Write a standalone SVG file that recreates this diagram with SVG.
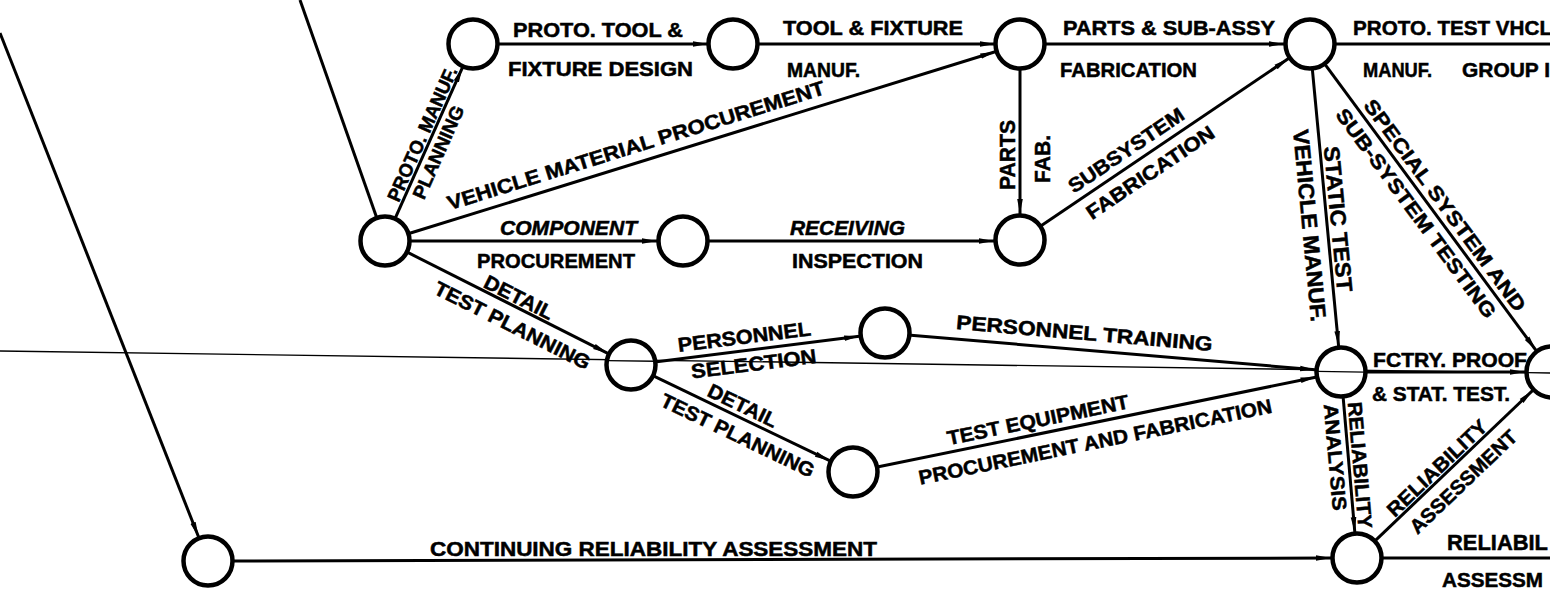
<svg xmlns="http://www.w3.org/2000/svg" width="1564" height="589" viewBox="0 0 1564 589">
<style>
.c{fill:#fff;stroke:#000;stroke-width:4.5}
.e{fill:none;stroke:#000;stroke-width:3}
.a{marker-end:url(#arr)}
.thin{fill:none;stroke:#000;stroke-width:1.4}
.t{font-family:"Liberation Sans",Arial,sans-serif;font-weight:bold;font-size:20px;fill:#000;stroke:#000;stroke-width:0.5}
.i{font-style:italic}
.m{text-anchor:middle}
</style>
<defs>
<marker id="arr" markerUnits="userSpaceOnUse" markerWidth="16" markerHeight="8" refX="15" refY="4" orient="auto">
<path d="M0,1.2 L15,4 L0,6.8 Z" fill="#000"/>
</marker>
<clipPath id="clip"><rect x="0" y="0" width="1550" height="589"/></clipPath>
</defs>
<rect width="1564" height="589" fill="#fff"/>
<g clip-path="url(#clip)">
<g id="connectors">
<line class="thin" x1="0" y1="351" x2="1552" y2="373"/>
<line class="e a" x1="0" y1="33" x2="198.5" y2="536.8"/>
<line class="e" x1="300" y1="0" x2="376.3" y2="216.5"/>
<line class="e a" x1="395.6" y1="217.3" x2="462.4" y2="67.7"/>
<line class="e a" x1="498" y1="44" x2="708" y2="44"/>
<line class="e a" x1="758" y1="44" x2="995" y2="44"/>
<line class="e a" x1="409.8" y1="233.3" x2="995.2" y2="51.7"/>
<line class="e a" x1="411" y1="241" x2="657" y2="241"/>
<line class="e a" x1="709" y1="241" x2="994" y2="241"/>
<line class="e a" x1="1020" y1="70" x2="1020" y2="214"/>
<line class="e a" x1="1041.5" y1="225.4" x2="1288.5" y2="58.6"/>
<line class="e a" x1="1046" y1="44" x2="1284" y2="44"/>
<line class="e" x1="1336" y1="44" x2="1564" y2="44"/>
<line class="e a" x1="1312.4" y1="69.9" x2="1338.6" y2="346.1"/>
<line class="e a" x1="1325.4" y1="64.9" x2="1536" y2="350.3"/>
<line class="e a" x1="408.2" y1="252.7" x2="607.8" y2="353.3"/>
<line class="e a" x1="656.8" y1="361.8" x2="859.2" y2="336.3"/>
<line class="e a" x1="654.4" y1="376.3" x2="829.6" y2="460.7"/>
<line class="e a" x1="910.9" y1="335.2" x2="1315.1" y2="369.8"/>
<line class="e a" x1="878.5" y1="466.8" x2="1315.5" y2="377.2"/>
<line class="e a" x1="1367" y1="372" x2="1525" y2="372"/>
<line class="e a" x1="1343.2" y1="397.9" x2="1354.8" y2="532.1"/>
<line class="e a" x1="1375.8" y1="540.1" x2="1532.5" y2="390.6"/>
<line class="e a" x1="234" y1="561" x2="1331" y2="558"/>
<line class="e" x1="1383" y1="558" x2="1564" y2="558"/>
</g>
<g id="nodeA"><circle class="c" cx="385" cy="241" r="24.5"/></g>
<g id="nodeB"><circle class="c" cx="473" cy="44" r="24.5"/></g>
<g id="nodeC"><circle class="c" cx="733" cy="44" r="24.5"/></g>
<g id="nodeD"><circle class="c" cx="1020" cy="44" r="24.5"/></g>
<g id="nodeE"><circle class="c" cx="1310" cy="44" r="24.5"/></g>
<g id="nodeF"><circle class="c" cx="683" cy="241" r="24.5"/></g>
<g id="nodeG"><circle class="c" cx="1020" cy="240" r="24.5"/></g>
<g id="nodeH"><circle class="c" cx="631" cy="365" r="24.5"/></g>
<g id="nodeI"><circle class="c" cx="885" cy="333" r="24.5"/></g>
<g id="nodeJ"><circle class="c" cx="853" cy="472" r="24.5"/></g>
<g id="nodeK"><circle class="c" cx="1341" cy="372" r="24.5"/></g>
<g id="nodeL"><circle class="c" cx="1552" cy="372" r="25.5"/></g>
<g id="nodeM"><circle class="c" cx="1357" cy="558" r="24.5"/></g>
<g id="nodeN"><circle class="c" cx="208" cy="561" r="24.5"/></g>
<g id="through">
<line class="thin" x1="1317" y1="371.4" x2="1365" y2="372.1"/>
<line class="thin" x1="607" y1="360.6" x2="655" y2="361.3"/>
<line class="thin" x1="1528" y1="372.6" x2="1552" y2="373"/>
</g>
<g id="labels">
<text class="t" x="513" y="37" textLength="170" lengthAdjust="spacingAndGlyphs">PROTO. TOOL &amp;</text>
<text class="t" x="508" y="76" textLength="185" lengthAdjust="spacingAndGlyphs">FIXTURE DESIGN</text>
<text class="t" x="783" y="35" textLength="180" lengthAdjust="spacingAndGlyphs">TOOL &amp; FIXTURE</text>
<text class="t" x="787" y="77" textLength="73" lengthAdjust="spacingAndGlyphs">MANUF.</text>
<text class="t" x="1063" y="35" textLength="212" lengthAdjust="spacingAndGlyphs">PARTS &amp; SUB-ASSY</text>
<text class="t" x="1060" y="77" textLength="137" lengthAdjust="spacingAndGlyphs">FABRICATION</text>
<text class="t" x="1353" y="35" textLength="199" lengthAdjust="spacingAndGlyphs">PROTO. TEST VHCL</text>
<text class="t" x="1363" y="77" textLength="69" lengthAdjust="spacingAndGlyphs">MANUF.</text>
<text class="t" x="1462" y="77" textLength="88" lengthAdjust="spacingAndGlyphs">GROUP I</text>
<text class="t i" x="500" y="235" textLength="137" lengthAdjust="spacingAndGlyphs">COMPONENT</text>
<text class="t" x="477" y="268" textLength="158" lengthAdjust="spacingAndGlyphs">PROCUREMENT</text>
<text class="t i" x="790" y="235" textLength="115" lengthAdjust="spacingAndGlyphs">RECEIVING</text>
<text class="t" x="792" y="268" textLength="131" lengthAdjust="spacingAndGlyphs">INSPECTION</text>
<text class="t" x="1373" y="367" textLength="154" lengthAdjust="spacingAndGlyphs">FCTRY. PROOF</text>
<text class="t" x="1372" y="401" textLength="138" lengthAdjust="spacingAndGlyphs">&amp; STAT. TEST.</text>
<text class="t" x="430" y="556" textLength="447" lengthAdjust="spacingAndGlyphs">CONTINUING RELIABILITY ASSESSMENT</text>
<text class="t" x="1447" y="550" textLength="101" lengthAdjust="spacingAndGlyphs" style="font-size:22px">RELIABIL</text>
<text class="t" x="1442" y="587" textLength="101" lengthAdjust="spacingAndGlyphs" style="font-size:21px">ASSESSM</text>
<text class="t m" transform="translate(431,138) rotate(-65.9)" y="-3" textLength="145" lengthAdjust="spacingAndGlyphs" style="font-size:19px">PROTO. MANUF.</text>
<text class="t m" transform="translate(427,147) rotate(-65.9)" y="19" textLength="100" lengthAdjust="spacingAndGlyphs" style="font-size:19px">PLANNING</text>
<text class="t m" transform="translate(641,161.6) rotate(-17.2)" y="-10" textLength="394" lengthAdjust="spacingAndGlyphs">VEHICLE MATERIAL PROCUREMENT</text>
<text class="t m" transform="translate(1015,155) rotate(-90)" y="0" textLength="70" lengthAdjust="spacingAndGlyphs" style="font-size:22px">PARTS</text>
<text class="t m" transform="translate(1050,159) rotate(-90)" y="0" textLength="48" lengthAdjust="spacingAndGlyphs" style="font-size:22px">FAB.</text>
<text class="t m" transform="translate(1134.5,162.6) rotate(-34.05)" y="-8" textLength="135" lengthAdjust="spacingAndGlyphs">SUBSYSTEM</text>
<text class="t m" transform="translate(1140.8,158.3) rotate(-34.05)" y="24" textLength="150" lengthAdjust="spacingAndGlyphs">FABRICATION</text>
<text class="t m" transform="translate(1326.6,220) rotate(84.6)" y="-4" textLength="146" lengthAdjust="spacingAndGlyphs" style="font-size:22px">STATIC TEST</text>
<text class="t m" transform="translate(1327,224) rotate(84.6)" y="25" textLength="193" lengthAdjust="spacingAndGlyphs" style="font-size:22px">VEHICLE MANUF.</text>
<text class="t m" transform="translate(1434.6,212.9) rotate(53.57)" y="-6" textLength="258" lengthAdjust="spacingAndGlyphs">SPECIAL SYSTEM AND</text>
<text class="t m" transform="translate(1428.2,204.2) rotate(53.57)" y="22" textLength="255" lengthAdjust="spacingAndGlyphs">SUB-SYSTEM TESTING</text>
<text class="t m" transform="translate(746,350.6) rotate(-7.18)" y="-7" textLength="134" lengthAdjust="spacingAndGlyphs">PERSONNEL</text>
<text class="t m" transform="translate(752,349.9) rotate(-7.18)" y="21" textLength="126" lengthAdjust="spacingAndGlyphs">SELECTION</text>
<text class="t m" transform="translate(1083,349.9) rotate(4.89)" y="-10" textLength="257" lengthAdjust="spacingAndGlyphs">PERSONNEL TRAINING</text>
<text class="t m" transform="translate(737.5,416.3) rotate(25.73)" y="-5" textLength="75" lengthAdjust="spacingAndGlyphs">DETAIL</text>
<text class="t m" transform="translate(745.1,420) rotate(25.73)" y="24" textLength="168" lengthAdjust="spacingAndGlyphs">TEST PLANNING</text>
<text class="t m" transform="translate(514.4,306.2) rotate(26.76)" y="-3" textLength="75" lengthAdjust="spacingAndGlyphs">DETAIL</text>
<text class="t m" transform="translate(520.5,309.3) rotate(26.76)" y="25" textLength="172" lengthAdjust="spacingAndGlyphs">TEST PLANNING</text>
<text class="t m" transform="translate(1040.7,433.6) rotate(-11.58)" y="-7" textLength="185" lengthAdjust="spacingAndGlyphs">TEST EQUIPMENT</text>
<text class="t m" transform="translate(1091.4,423.2) rotate(-11.58)" y="26" textLength="360" lengthAdjust="spacingAndGlyphs">PROCUREMENT AND FABRICATION</text>
<text class="t m" transform="translate(1349.1,466) rotate(85.08)" y="-4" textLength="127" lengthAdjust="spacingAndGlyphs">RELIABILITY</text>
<text class="t m" transform="translate(1348.2,456) rotate(85.08)" y="20" textLength="107" lengthAdjust="spacingAndGlyphs">ANALYSIS</text>
<text class="t m" transform="translate(1443.9,475.2) rotate(-43.65)" y="-3" textLength="130" lengthAdjust="spacingAndGlyphs">RELIABILITY</text>
<text class="t m" transform="translate(1450.8,468.6) rotate(-43.65)" y="25" textLength="140" lengthAdjust="spacingAndGlyphs">ASSESSMENT</text>
</g>
</g>
</svg>
